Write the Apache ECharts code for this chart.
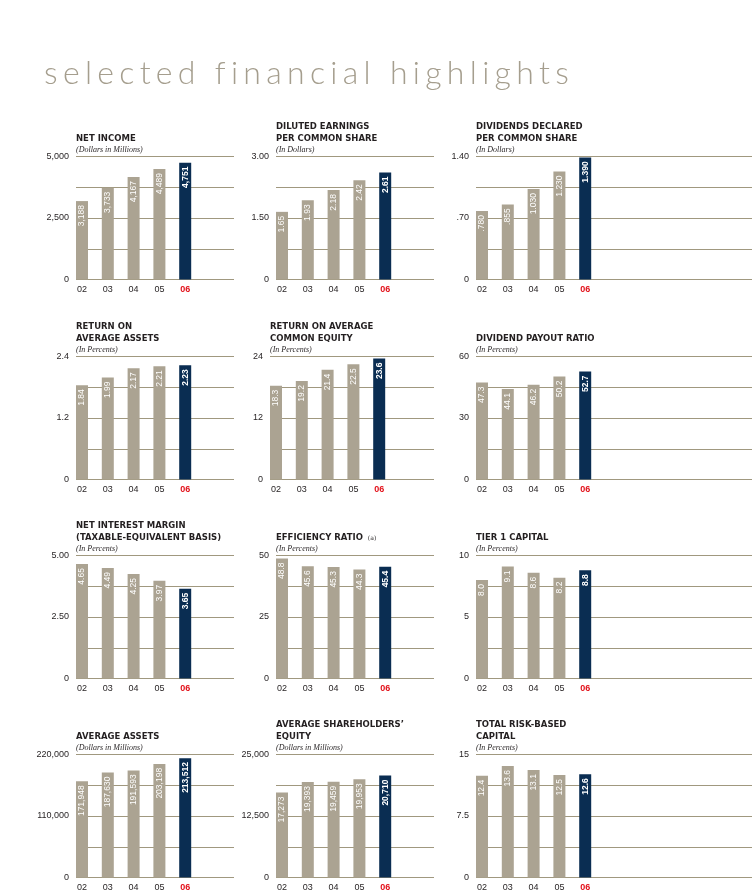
<!DOCTYPE html>
<html>
<head>
<meta charset="utf-8">
<script src="https://cdn.jsdelivr.net/npm/echarts@6/dist/echarts.min.js"></script>
<style>
  html, body { margin: 0; padding: 0; background: #fff; }
  #wrap { position: relative; width: 752px; height: 895px; }
  #main { position: absolute; left: 0; top: 0; width: 752px; height: 895px; }
  .page-title {
    position: absolute; left: 44px; top: 55px;
    font-family: Lato, "Liberation Sans", sans-serif; font-weight: 300;
    font-size: 32px; line-height: 34px; letter-spacing: 5.3px;
    color: #a59e8e; white-space: nowrap;
  }
</style>
</head>
<body>
<div id="wrap">
  <div id="main"></div>
  <div class="page-title">selected financial highlights</div>
</div>
<script>
const years = ['02', '03', '04', '05', '06'];

const netIncome = [3188, 3733, 4167, 4489, 4751];
const dilutedEps = [1.65, 1.93, 2.18, 2.42, 2.61];
const dividendsDeclared = [0.78, 0.855, 1.03, 1.23, 1.39];
const returnOnAssets = [1.84, 1.99, 2.17, 2.21, 2.23];
const returnOnEquity = [18.3, 19.2, 21.4, 22.5, 23.6];
const payoutRatio = [47.3, 44.1, 46.2, 50.2, 52.7];
const netInterestMargin = [4.65, 4.49, 4.25, 3.97, 3.65];
const efficiencyRatio = [48.8, 45.6, 45.3, 44.3, 45.4];
const tier1Capital = [8.0, 9.1, 8.6, 8.2, 8.8];
const averageAssets = [171948, 187630, 191593, 203198, 213512];
const averageEquity = [17273, 19393, 19459, 19953, 20710];
const totalRiskCapital = [12.4, 13.6, 13.1, 12.5, 12.6];

// y axis labels: bottom, middle, top
const ticksNetIncome = ['0', '2,500', '5,000'];
const ticksEps = ['0', '1.50', '3.00'];
const ticksDividends = ['0', '.70', '1.40'];
const ticksRoa = ['0', '1.2', '2.4'];
const ticksRoe = ['0', '12', '24'];
const ticksPayout = ['0', '30', '60'];
const ticksNim = ['0', '2.50', '5.00'];
const ticksEfficiency = ['0', '25', '50'];
const ticksTier1 = ['0', '5', '10'];
const ticksAssets = ['0', '110,000', '220,000'];
const ticksEquity = ['0', '12,500', '25,000'];
const ticksRiskCapital = ['0', '7.5', '15'];

const charts = [
  { title: ['NET INCOME'], sub: '(Dollars in Millions)', data: netIncome, dec: 0, ticks: ticksNetIncome },
  { title: ['DILUTED EARNINGS', 'PER COMMON SHARE'], sub: '(In Dollars)', data: dilutedEps, dec: 2, ticks: ticksEps },
  { title: ['DIVIDENDS DECLARED', 'PER COMMON SHARE'], sub: '(In Dollars)', data: dividendsDeclared, dec: 3, ticks: ticksDividends },
  { title: ['RETURN ON', 'AVERAGE ASSETS'], sub: '(In Percents)', data: returnOnAssets, dec: 2, ticks: ticksRoa },
  { title: ['RETURN ON AVERAGE', 'COMMON EQUITY'], sub: '(In Percents)', data: returnOnEquity, dec: 1, ticks: ticksRoe },
  { title: ['DIVIDEND PAYOUT RATIO'], sub: '(In Percents)', data: payoutRatio, dec: 1, ticks: ticksPayout },
  { title: ['NET INTEREST MARGIN', '(TAXABLE-EQUIVALENT BASIS)'], sub: '(In Percents)', data: netInterestMargin, dec: 2, ticks: ticksNim },
  { title: ['EFFICIENCY RATIO {a|(a)}'], sub: '(In Percents)', data: efficiencyRatio, dec: 1, ticks: ticksEfficiency },
  { title: ['TIER 1 CAPITAL'], sub: '(In Percents)', data: tier1Capital, dec: 1, ticks: ticksTier1 },
  { title: ['AVERAGE ASSETS'], sub: '(Dollars in Millions)', data: averageAssets, dec: 0, ticks: ticksAssets },
  { title: ['AVERAGE SHAREHOLDERS\u2019', 'EQUITY'], sub: '(Dollars in Millions)', data: averageEquity, dec: 0, ticks: ticksEquity },
  { title: ['TOTAL RISK-BASED', 'CAPITAL'], sub: '(In Percents)', data: totalRiskCapital, dec: 1, ticks: ticksRiskCapital }
];

// layout
const colLeft = [76, 276, 476];
const colRight = [234, 434, 752];
const rowTop = [156.5, 356.5, 555.5, 754.5];
const plotH = 123;
const band = 25.8;
const barW = 12;

const BEIGE = '#aba392';
const NAVY = '#0a2d52';
const RULE = '#a0987f';
const INK = '#231f20';
const RED = '#e3121b';

function fmt(v, dec) {
  return v.toLocaleString('en-US', { minimumFractionDigits: dec, maximumFractionDigits: dec })
    .replace(/^0\./, '.');
}

const grid = [], xAxis = [], yAxis = [], series = [], graphic = [];

charts.forEach((c, i) => {
  const row = Math.floor(i / 3), col = i % 3;
  let left = colLeft[col];
  if (i === 4) left = 270; // this one sits a bit further left
  const right = colRight[col];
  const top = rowTop[row];
  const max = parseFloat(c.ticks[2].replace(/,/g, ''));
  const g0 = i * 2, g1 = i * 2 + 1;

  // frame grid: rules + y labels
  grid.push({ left: left, top: top, width: right - left, height: plotH });
  xAxis.push({ gridIndex: g0, type: 'value', show: false, min: 0, max: 1 });
  yAxis.push({
    gridIndex: g0, type: 'value', min: 0, max: max, interval: max / 4,
    axisLine: { show: false }, axisTick: { show: false },
    splitLine: { show: true, lineStyle: { color: RULE, width: 1 } },
    axisLabel: {
      margin: 7, fontSize: 9, color: INK, fontFamily: 'Liberation Sans',
      formatter: (v, idx) => (idx % 2 === 0 ? c.ticks[idx / 2] : '')
    }
  });

  // bar grid
  grid.push({ left: left - (band / 2 - barW / 2), top: top, width: band * years.length, height: plotH });
  xAxis.push({
    gridIndex: g1, type: 'category', data: years,
    axisLine: { show: false }, axisTick: { show: false },
    axisLabel: {
      interval: 0, margin: 6, fontSize: 9, color: INK, fontFamily: 'Liberation Sans',
      formatter: (v, idx) => (idx === years.length - 1 ? '{hl|' + v + '}' : v),
      rich: { hl: { color: RED, fontWeight: 'bold', fontSize: 9, fontFamily: 'Liberation Sans' } }
    }
  });
  yAxis.push({ gridIndex: g1, type: 'value', min: 0, max: max, show: false });

  series.push({
    type: 'bar', xAxisIndex: g1, yAxisIndex: g1, barWidth: barW,
    data: c.data.map((v, j) => ({
      value: v,
      itemStyle: { color: j === c.data.length - 1 ? NAVY : BEIGE },
      label: { fontWeight: j === c.data.length - 1 ? 'bold' : 'normal' }
    })),
    label: {
      show: true, position: 'insideTop', rotate: 90, align: 'right', verticalAlign: 'middle',
      distance: 4, color: '#fff', fontSize: 8.5,
      fontFamily: '"Liberation Sans Narrow", "Liberation Sans", sans-serif',
      formatter: p => fmt(p.value, c.dec)
    }
  });

  // titles
  const n = c.title.length;
  c.title.forEach((t, k) => {
    graphic.push({
      type: 'text', x: left, y: top - 18 - (n - 1 - k) * 11.5,
      style: {
        text: t, fill: INK, font: 'bold 8.5px "DejaVu Sans"', verticalAlign: 'middle',
        rich: { a: { font: '6px "DejaVu Sans"', fill: INK, padding: [2, 0, 0, 2] } }
      }
    });
  });
  graphic.push({
    type: 'text', x: left, y: top - 6.5,
    style: { text: c.sub, fill: INK, font: 'italic 8px "Liberation Serif"', verticalAlign: 'middle' }
  });
});

const chart = echarts.init(document.getElementById('main'));
chart.setOption({
  backgroundColor: '#fff',
  animation: false,
  grid: grid,
  xAxis: xAxis,
  yAxis: yAxis,
  series: series,
  graphic: graphic
});
</script>
</body>
</html>
